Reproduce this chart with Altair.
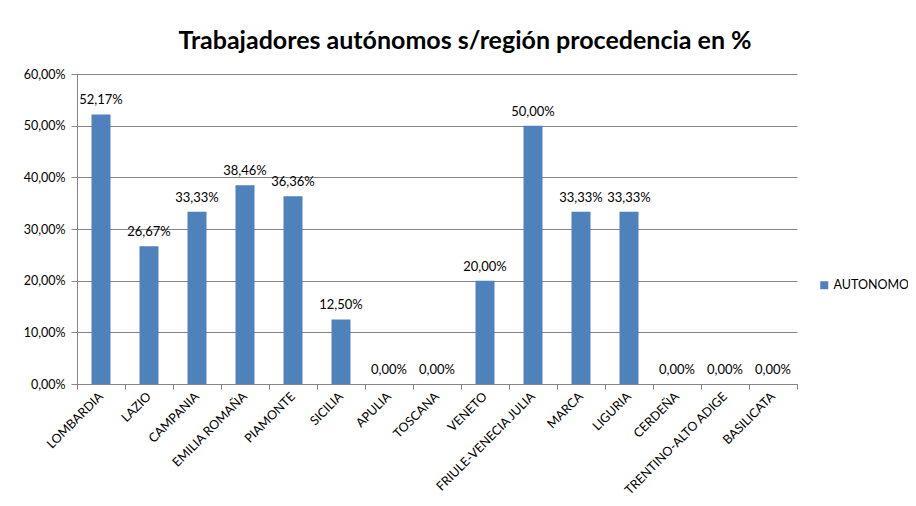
import altair as alt
import pandas as pd

regions = ["LOMBARDIA", "LAZIO", "CAMPANIA", "EMILIA ROMAÑA", "PIAMONTE", "SICILIA",
           "APULIA", "TOSCANA", "VENETO", "FRIULE-VENECIA JULIA", "MARCA", "LIGURIA",
           "CERDEÑA", "TRENTINO-ALTO ADIGE", "BASILICATA"]
values = [0.5217, 0.2667, 0.3333, 0.3846, 0.3636, 0.1250, 0.0, 0.0, 0.20, 0.50,
          0.3333, 0.3333, 0.0, 0.0, 0.0]
series = ["AUTONOMO"] * len(regions)

df = pd.DataFrame({"region": regions, "value": values, "serie": series})

FONT = "Lato"
BLUE = "#4F81BD"

x = alt.X("region:N", sort=regions, title=None,
          scale=alt.Scale(paddingInner=0, paddingOuter=0),
          axis=alt.Axis(labelAngle=-45, labelFontSize=12.5, labelFont=FONT, labelColor="#000000",
                        bandPosition=1, tickExtra=True, tickSize=5, tickColor="#868686",
                        domainColor="#868686", labelPadding=5, labelAlign="right",
                        labelBaseline="middle", labelOverlap=False))
y = alt.Y("value:Q", title=None,
          scale=alt.Scale(domain=[0, 0.6]),
          axis=alt.Axis(format=".2%", values=[0, 0.1, 0.2, 0.3, 0.4, 0.5, 0.6],
                        labelFontSize=12.5, labelFont=FONT, labelColor="#000000",
                        tickSize=6, tickColor="#868686", domainColor="#868686",
                        gridColor="#868686", labelPadding=6))

bars = alt.Chart(df).mark_bar(size=19).encode(
    x=x, y=y,
    color=alt.Color("serie:N", scale=alt.Scale(range=[BLUE]),
                    legend=alt.Legend(title=None, orient="none", legendX=741, legendY=205,
                                      symbolType="square", symbolSize=64,
                                      labelFont=FONT, labelFontSize=12.5, labelColor="#000000",
                                      symbolStrokeWidth=0, labelOffset=3)),
)
labels = alt.Chart(df).mark_text(baseline="alphabetic", dy=-10, fontSize=13, font=FONT, color="#000000").encode(
    x=alt.X("region:N", sort=regions),
    y="value:Q",
    text=alt.Text("value:Q", format=".2%"),
)

chart = (bars + labels).properties(
    width=720, height=310,
    title=alt.TitleParams("Trabajadores autónomos s/región procedencia en %",
                          font=FONT, fontSize=25, fontWeight="bold", color="#000000",
                          anchor="middle", dx=28, offset=14),
    autosize=alt.AutoSizeParams(type="none"),
    padding={"left": 69, "top": 66, "right": 111, "bottom": 114},
).configure_view(stroke=None).configure_axisX(grid=False)

chart.save("out.html", embed_options={
    "renderer": "svg", "actions": False,
    "formatLocale": {"decimal": ",", "thousands": ".", "grouping": [3], "currency": ["", " €"]},
})
